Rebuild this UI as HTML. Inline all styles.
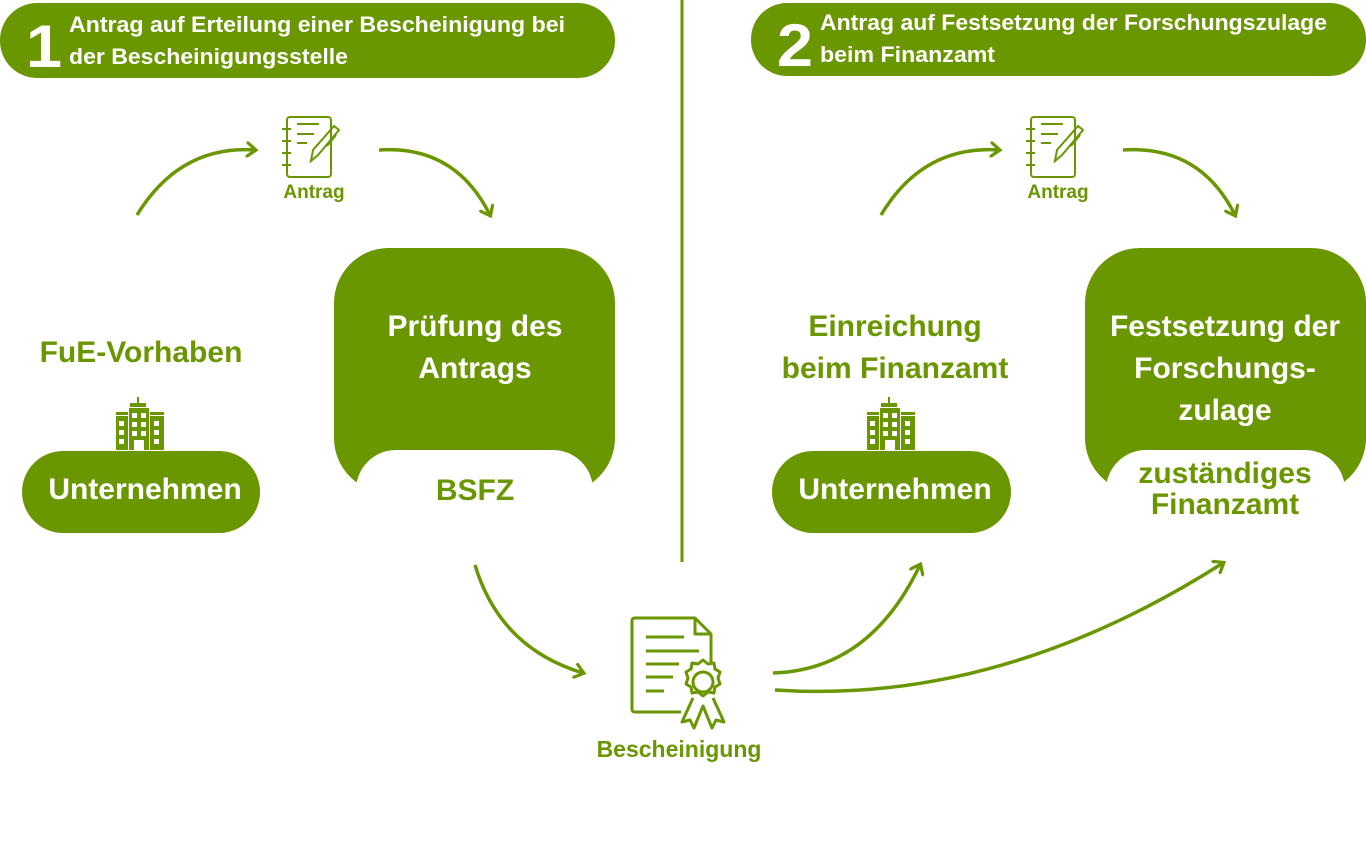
<!DOCTYPE html>
<html><head><meta charset="utf-8"><style>
html,body{margin:0;padding:0;background:#fff;}
svg{display:block;font-family:"Liberation Sans",Arial,sans-serif;font-weight:bold;}
</style></head><body>
<svg width="1366" height="851" viewBox="0 0 1366 851" xmlns="http://www.w3.org/2000/svg">
<defs>
<marker id="ah" markerWidth="14" markerHeight="16" refX="9" refY="8" orient="auto" markerUnits="userSpaceOnUse">
<path d="M1,1 L10,8 L1,15" fill="none" stroke="#6a9600" stroke-width="3.2" stroke-linecap="round"/>
</marker>
<g id="note" fill="none" stroke="#6a9600" stroke-width="2">
<rect x="6" y="0" width="44" height="60" rx="3"/>
<line x1="1" y1="12" x2="10" y2="12"/><line x1="1" y1="24" x2="10" y2="24"/><line x1="1" y1="36" x2="10" y2="36"/><line x1="1" y1="48" x2="10" y2="48"/>
<line x1="16" y1="7" x2="38" y2="7"/><line x1="16" y1="17" x2="33" y2="17"/><line x1="16" y1="26" x2="26" y2="26"/>
<path d="M30,44 L32,33 L53,9 L58,13 L37,38 Z"/><line x1="55" y1="18" x2="46" y2="29"/>
</g>
<g id="bld" fill="#6a9600">
<rect x="23" y="0" width="2" height="6"/><rect x="16" y="6" width="16" height="4"/>
<rect x="2" y="15" width="12" height="3"/><rect x="36" y="15" width="14" height="3"/>
<rect x="2" y="19" width="12" height="34"/><rect x="15" y="11" width="20" height="42"/><rect x="36" y="19" width="14" height="34"/>
<g fill="#fff"><rect x="5" y="24" width="5" height="5"/><rect x="5" y="33" width="5" height="5"/><rect x="5" y="42" width="5" height="5"/>
<rect x="40" y="24" width="5" height="5"/><rect x="40" y="33" width="5" height="5"/><rect x="40" y="42" width="5" height="5"/>
<rect x="18" y="16" width="5" height="5"/><rect x="27" y="16" width="5" height="5"/><rect x="18" y="25" width="5" height="5"/><rect x="27" y="25" width="5" height="5"/>
<rect x="18" y="34" width="5" height="5"/><rect x="27" y="34" width="5" height="5"/><rect x="20" y="43" width="10" height="10"/></g>
</g>
</defs>

<line x1="682" y1="0" x2="682" y2="562" stroke="#6a9600" stroke-width="3"/>

<!-- headers -->
<rect x="0" y="3" width="615" height="75" rx="37" fill="#6a9600"/>
<text x="26" y="67" font-size="60" fill="#fff" textLength="36" lengthAdjust="spacingAndGlyphs">1</text>
<text x="69" y="32" font-size="22" fill="#fff" textLength="496" lengthAdjust="spacingAndGlyphs">Antrag auf Erteilung einer Bescheinigung bei</text>
<text x="69" y="64" font-size="22" fill="#fff" textLength="279" lengthAdjust="spacingAndGlyphs">der Bescheinigungsstelle</text>
<rect x="751" y="3" width="615" height="73" rx="36" fill="#6a9600"/>
<text x="777" y="66" font-size="60" fill="#fff" textLength="36" lengthAdjust="spacingAndGlyphs">2</text>
<text x="820" y="30" font-size="22" fill="#fff" textLength="507" lengthAdjust="spacingAndGlyphs">Antrag auf Festsetzung der Forschungszulage</text>
<text x="820" y="62" font-size="22" fill="#fff" textLength="175" lengthAdjust="spacingAndGlyphs">beim Finanzamt</text>

<!-- notepads -->
<use href="#note" x="281" y="117"/>
<text x="314" y="198" font-size="19" fill="#6a9600" text-anchor="middle">Antrag</text>
<use href="#note" x="1025" y="117"/>
<text x="1058" y="198" font-size="19" fill="#6a9600" text-anchor="middle">Antrag</text>

<!-- arrows -->
<g fill="none" stroke="#6a9600" stroke-width="3.5" marker-end="url(#ah)">
<path d="M137,215 Q180,145 255,150"/>
<path d="M379,150 Q455,145 490,215"/>
<path d="M881,215 Q923,145 999,150"/>
<path d="M1123,150 Q1200,145 1235,215"/>
<path d="M475,565 Q500,648 583,673"/>
<path d="M773,673 Q870,670 920,565"/>
<path d="M775,690 Q1000,705 1223,563"/>
</g>

<!-- left -->
<text x="141" y="362" font-size="30" fill="#6a9600" text-anchor="middle">FuE-Vorhaben</text>
<use href="#bld" x="114" y="397"/>
<rect x="22" y="451" width="238" height="82" rx="41" fill="#6a9600"/>
<text x="145" y="499" font-size="30" fill="#fff" text-anchor="middle">Unternehmen</text>

<rect x="334" y="248" width="281" height="245" rx="55" fill="#6a9600"/>
<rect x="356" y="450" width="237" height="100" rx="40" fill="#fff"/>
<text x="475" y="336" font-size="30" fill="#fff" text-anchor="middle">Prüfung des</text>
<text x="475" y="378" font-size="30" fill="#fff" text-anchor="middle">Antrags</text>
<text x="475" y="500" font-size="30" fill="#6a9600" text-anchor="middle">BSFZ</text>

<!-- right -->
<text x="895" y="336" font-size="30" fill="#6a9600" text-anchor="middle">Einreichung</text>
<text x="895" y="378" font-size="30" fill="#6a9600" text-anchor="middle">beim Finanzamt</text>
<use href="#bld" x="865" y="397"/>
<rect x="772" y="451" width="239" height="82" rx="41" fill="#6a9600"/>
<text x="895" y="499" font-size="30" fill="#fff" text-anchor="middle">Unternehmen</text>

<rect x="1085" y="248" width="281" height="245" rx="55" fill="#6a9600"/>
<rect x="1106" y="450" width="239" height="100" rx="40" fill="#fff"/>
<text x="1225" y="336" font-size="30" fill="#fff" text-anchor="middle">Festsetzung der</text>
<text x="1225" y="378" font-size="30" fill="#fff" text-anchor="middle">Forschungs-</text>
<text x="1225" y="420" font-size="30" fill="#fff" text-anchor="middle">zulage</text>
<text x="1225" y="483" font-size="30" fill="#6a9600" text-anchor="middle">zuständiges</text>
<text x="1225" y="514" font-size="30" fill="#6a9600" text-anchor="middle">Finanzamt</text>

<!-- certificate -->
<g fill="none" stroke="#6a9600" stroke-width="3" stroke-linejoin="round">
<path d="M681,712 L635,712 Q632,712 632,709 L632,621 Q632,618 635,618 L695,618 L711,634 L711,662"/>
<path d="M695,618 L695,634 L711,634"/>
<line x1="646" y1="637" x2="684" y2="637"/><line x1="646" y1="651" x2="699" y2="651"/>
<line x1="646" y1="664" x2="679" y2="664"/><line x1="646" y1="677" x2="673" y2="677"/><line x1="646" y1="691" x2="664" y2="691"/>
<path d="M703,660 l5,4 6,-1 1,6 5,3 -2,6 2,6 -5,3 -1,6 -6,-1 -5,4 -5,-4 -6,1 -1,-6 -5,-3 2,-6 -2,-6 5,-3 1,-6 6,1 z"/>
<circle cx="703" cy="682" r="10"/>
<path d="M693,698 L682,722 L690,720 L694,728 L703,706 L712,728 L716,720 L724,722 L713,698"/>
</g>
<text x="679" y="757" font-size="23" fill="#6a9600" text-anchor="middle">Bescheinigung</text>
</svg>
</body></html>
